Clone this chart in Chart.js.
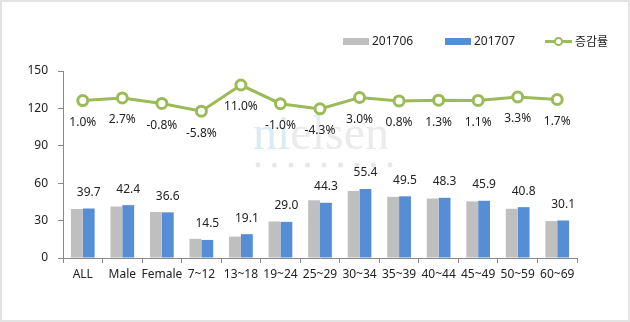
<!DOCTYPE html>
<html>
<head>
<meta charset="utf-8">
<script src="https://cdn.jsdelivr.net/npm/chart.js@4.4.1/dist/chart.umd.min.js"></script>
<style>
  html, body { margin:0; padding:0; background:#fff; }
  #wrap { position:relative; width:630px; height:322px; overflow:hidden; }
  #frame { position:absolute; left:0; top:0; width:626px; height:318px; border:2px solid #e3e3e3; pointer-events:none; z-index:3; }
  canvas { position:absolute; left:0; top:0; }
  .lg { position:absolute; font-family:"Noto Sans","Noto Sans CJK KR",sans-serif; font-size:12px; color:#222; line-height:14px; z-index:2; }
  .sw { position:absolute; z-index:2; }
</style>
</head>
<body>
<div id="wrap">
  <canvas id="c" width="630" height="322"></canvas>
  <div id="frame"></div>
  <div class="sw" style="left:343px;top:38px;width:26px;height:7px;background:#bfbfbf"></div>
  <div class="lg" style="left:372px;top:34px">201706</div>
  <div class="sw" style="left:445px;top:38px;width:26px;height:7px;background:#558ed5"></div>
  <div class="lg" style="left:474px;top:34px">201707</div>
  <div class="sw" style="left:545px;top:40px;width:27px;height:3px;background:#9bbb59"></div>
  <div class="sw" style="left:554px;top:37px;width:5px;height:5px;border:2px solid #9bbb59;border-radius:50%;background:#fff"></div>
  <div class="lg" style="left:575px;top:34px;font-family:'Noto Sans CJK KR',sans-serif">증감률</div>
</div>
<script>
const categories = ["ALL","Male","Female","7~12","13~18","19~24","25~29","30~34","35~39","40~44","45~49","50~59","60~69"];
const series201706 = [39.3,41.3,36.9,15.4,17.2,29.3,46.3,53.8,49.1,47.7,45.4,39.5,29.6];
const series201707 = [39.7,42.4,36.6,14.5,19.1,29.0,44.3,55.4,49.5,48.3,45.9,40.8,30.1];
const growthRate = [1.0,2.7,-0.8,-5.8,11.0,-1.0,-4.3,3.0,0.8,1.3,1.1,3.3,1.7];
const yTicks = [0,30,60,90,120,150];

const FONT = '"Noto Sans","Noto Sans CJK KR",sans-serif';

const watermark = {
  id:'watermark',
  beforeDatasetsDraw(chart){
    const ctx = chart.ctx;
    ctx.save();
    ctx.font = '48px "Liberation Serif","DejaVu Serif",serif';
    ctx.textBaseline = 'alphabetic';
    ctx.fillStyle = '#dbebf3';
    ctx.fillText('ni', 253, 149);
    const w = ctx.measureText('ni').width;
    ctx.fillStyle = '#ebebeb';
    ctx.fillText('elsen', 253 + w, 149);
    ctx.fillStyle = '#e8e8e8';
    for (let i = 0; i < 9; i++) {
      ctx.beginPath();
      ctx.arc(258 + i * 16.5, 165, 2.5, 0, Math.PI * 2);
      ctx.fill();
    }
    ctx.restore();
  }
};

const valueLabels = {
  id:'valueLabels',
  afterDatasetsDraw(chart){
    const ctx = chart.ctx;
    ctx.save();
    ctx.font = '12px ' + FONT;
    ctx.fillStyle = '#222';
    ctx.textAlign = 'center';
    ctx.textBaseline = 'middle';
    const mb = chart.getDatasetMeta(1);
    mb.data.forEach((el, i) => {
      ctx.fillText(series201707[i].toFixed(1), el.x, el.y - 16);
    });
    const ml = chart.getDatasetMeta(2);
    ml.data.forEach((el, i) => {
      ctx.fillText(growthRate[i].toFixed(1) + '%', el.x, el.y + 22);
    });
    ctx.restore();
  }
};

new Chart(document.getElementById('c'), {
  data: {
    labels: categories,
    datasets: [
      { type:'bar', label:'201706', data:series201706, backgroundColor:'#bfbfbf', yAxisID:'y', order:2,
        categoryPercentage:0.6, barPercentage:1.0 },
      { type:'bar', label:'201707', data:series201707, backgroundColor:'#558ed5', yAxisID:'y', order:2,
        categoryPercentage:0.6, barPercentage:1.0 },
      { type:'line', label:'증감률', data:growthRate, yAxisID:'y2', order:1,
        borderColor:'#9bbb59', borderWidth:3, pointRadius:5, pointBorderWidth:3,
        pointBackgroundColor:'#fff', pointBorderColor:'#9bbb59', tension:0 }
    ]
  },
  options: {
    responsive:false,
    animation:false,
    devicePixelRatio:1,
    layout:{ padding:{ left:0, top:71, right:53, bottom:0 } },
    plugins:{ legend:{display:false}, tooltip:{enabled:false} },
    scales:{
      x:{
        grid:{ display:true, drawOnChartArea:false, drawTicks:true, tickLength:5, color:'#888', offset:true },
        border:{ display:true, color:'#888', width:1 },
        ticks:{ font:{ family:FONT, size:12 }, color:'#222', padding:4, maxRotation:0, autoSkip:false },
        afterFit(s){ s.height = 64; }
      },
      y:{
        min:0, max:150,
        afterBuildTicks(s){ s.ticks = yTicks.map(v => ({value:v})); },
        grid:{ display:true, drawOnChartArea:false, drawTicks:true, tickLength:5, color:'#888' },
        border:{ display:true, color:'#888', width:1 },
        ticks:{ font:{ family:FONT, size:12 }, color:'#222', padding:10 },
        afterFit(s){ s.width = 63; }
      },
      y2:{
        display:false, min:-100, max:20
      }
    }
  },
  plugins:[watermark, valueLabels]
});
</script>
</body>
</html>
